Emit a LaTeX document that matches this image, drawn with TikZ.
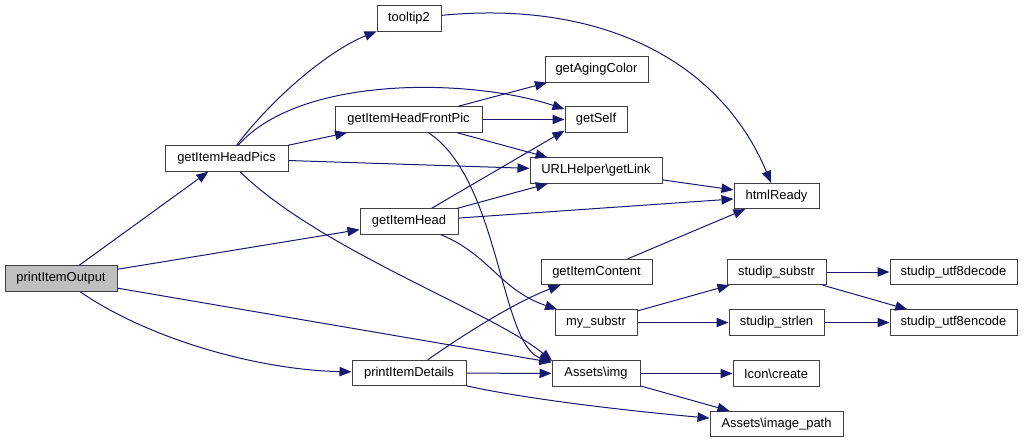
\documentclass[tikz,border=0pt]{standalone}
\usepackage{fontspec}
\setmainfont{Liberation Sans}
\usetikzlibrary{arrows.meta}
\definecolor{edgeblue}{HTML}{191970}
\definecolor{nodeborder}{HTML}{404040}
\definecolor{rootfill}{HTML}{BFBFBF}
\begin{document}
\begin{tikzpicture}[x=0.75pt,y=-0.75pt,
  fn/.style={draw=nodeborder, line width=0.75pt, fill=white, minimum height=19pt,
    inner sep=0pt, font=\fontsize{9.7pt}{11pt}\selectfont, text=black},
  rootfn/.style={fn, fill=rootfill},
  call/.style={draw=edgeblue, line width=0.75pt, -{Triangle[length=9pt,width=7pt]}}]
\useasboundingbox (0,0) rectangle (1028,443);
% nodes
\node[rootfn, minimum width=112*0.75pt] (pio) at (61,278.5) {printItemOutput};
\node[fn, minimum width=123*0.75pt] (hp) at (226.5,158.5) {getItemHeadPics};
\node[fn, minimum width=64*0.75pt] (tt) at (409,18.5) {tooltip2};
\node[fn, minimum width=147*0.75pt] (hfp) at (408.5,119.5) {getItemHeadFrontPic};
\node[fn, minimum width=98*0.75pt] (gih) at (409,221.5) {getItemHead};
\node[fn, minimum width=114*0.75pt] (pid) at (409,373) {printItemDetails};
\node[fn, minimum width=103*0.75pt] (gac) at (596.5,69.5) {getAgingColor};
\node[fn, minimum width=62*0.75pt] (gs) at (596,119.5) {getSelf};
\node[fn, minimum width=132*0.75pt] (url) at (596,170.5) {URLHelper\textbackslash getLink};
\node[fn, minimum width=85*0.75pt] (hr) at (776.5,196) {htmlReady};
\node[fn, minimum width=111*0.75pt] (gic) at (596.5,272) {getItemContent};
\node[fn, minimum width=82*0.75pt] (ms) at (596,322.5) {my\_substr};
\node[fn, minimum width=88*0.75pt] (ai) at (596,373.5) {Assets\textbackslash img};
\node[fn, minimum width=99*0.75pt] (ss) at (776.5,272) {studip\_substr};
\node[fn, minimum width=95*0.75pt] (sl) at (776.5,322.5) {studip\_strlen};
\node[fn, minimum width=86*0.75pt] (ic) at (776,373.5) {Icon\textbackslash create};
\node[fn, minimum width=133*0.75pt] (ip) at (776.5,424) {Assets\textbackslash image\_path};
\node[fn, minimum width=127*0.75pt] (ud) at (953.5,272) {studip\_utf8decode};
\node[fn, minimum width=127*0.75pt] (ue) at (953.5,322.5) {studip\_utf8encode};
% edges
\draw[call] (pio) -- (hp);
\draw[call] (pio) -- (gih);
\draw[call] (pio) -- ([yshift=-1.5pt]ai.north west);
\draw[call] (pio) .. controls (150,340) and (260,370) .. (pid);
\draw[call] (hp) .. controls (275,95) and (330,50) .. (tt);
\draw[call] (hp) .. controls (300,75) and (470,78) .. (gs);
\draw[call] (hp) -- (hfp);
\draw[call] (hp) -- (url);
\draw[call] (hp) .. controls (320,250) and (493,312) .. ([xshift=0.5pt,yshift=-0.5pt]ai.north west);
\draw[call] (hfp) -- (gac);
\draw[call] (hfp) -- (gs);
\draw[call] (hfp) -- (url);
\draw[call] (hfp) .. controls (500,180) and (500,345) .. ([yshift=-1pt]ai.north west);
\draw[call] (gih) -- ([yshift=1.5pt]gs.south west);
\draw[call] (gih) -- (url);
\draw[call] (gih) -- (hr);
\draw[call] (gih) .. controls (490,255) and (500,290) .. (ms);
\draw[call] (tt) .. controls (600,0) and (720,60) .. (hr);
\draw[call] (url) -- (hr);
\draw[call] (gic) -- (hr);
\draw[call] (ms) -- (ss);
\draw[call] (ms) -- (sl);
\draw[call] (ss) -- (ud);
\draw[call] (ss) -- (ue);
\draw[call] (sl) -- (ue);
\draw[call] (pid) .. controls (470,330) and (520,300) .. (gic);
\draw[call] (pid) -- (ai);
\draw[call] (pid) .. controls (530,400) and (640,412) .. (ip);
\draw[call] (ai) -- (ic);
\draw[call] (ai) -- (ip);
\end{tikzpicture}
\end{document}
